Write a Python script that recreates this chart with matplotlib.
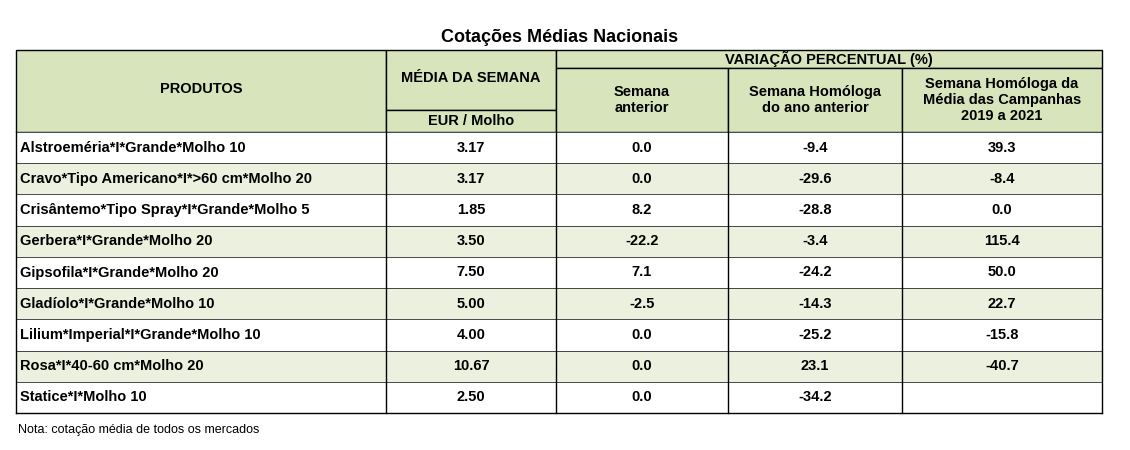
import matplotlib.pyplot as plt
from matplotlib.patches import Rectangle

produtos = ["Alstroeméria*I*Grande*Molho 10", "Cravo*Tipo Americano*I*>60 cm*Molho 20",
            "Crisântemo*Tipo Spray*I*Grande*Molho 5", "Gerbera*I*Grande*Molho 20",
            "Gipsofila*I*Grande*Molho 20", "Gladíolo*I*Grande*Molho 10",
            "Lilium*Imperial*I*Grande*Molho 10", "Rosa*I*40-60 cm*Molho 20", "Statice*I*Molho 10"]
media = ["3.17", "3.17", "1.85", "3.50", "7.50", "5.00", "4.00", "10.67", "2.50"]
sem_ant = ["0.0", "0.0", "8.2", "-22.2", "7.1", "-2.5", "0.0", "0.0", "0.0"]
sem_hom = ["-9.4", "-29.6", "-28.8", "-3.4", "-24.2", "-14.3", "-25.2", "23.1", "-34.2"]
sem_camp = ["39.3", "-8.4", "0.0", "115.4", "50.0", "22.7", "-15.8", "-40.7", ""]

plt.rcParams["font.family"] = "Liberation Sans"
fig = plt.figure(figsize=(11.3, 4.5), dpi=100)
ax = fig.add_axes([0, 0, 1, 1])
ax.set_xlim(0, 1130)
ax.set_ylim(450, 0)
ax.axis("off")

HDR = "#d8e4bc"
ALT = "#ebf1de"
cols = [16, 386, 556, 728, 902, 1102]
top, y1, y2, y3, bottom = 50, 68, 110, 132, 413
rh = (bottom - y3) / len(produtos)
fs = 10.5

def box(x0, y0, x1, y1_, fc):
    ax.add_patch(Rectangle((x0, y0), x1 - x0, y1_ - y0, fc=fc, ec="black", lw=1))

def txt(x, y, s, ha="center", size=fs):
    ax.text(x, y, s, ha=ha, va="center", fontsize=size, fontweight="bold")

ax.text(560, 38, "Cotações Médias Nacionais", ha="center", va="center", fontsize=13, fontweight="bold")

# header
box(cols[0], top, cols[1], y3, HDR)
txt((cols[0] + cols[1]) / 2, 89, "PRODUTOS")
box(cols[1], top, cols[2], y2, HDR)
txt((cols[1] + cols[2]) / 2, 78, "MÉDIA DA SEMANA")
box(cols[1], y2, cols[2], y3, HDR)
txt((cols[1] + cols[2]) / 2, 121, "EUR / Molho")
box(cols[2], top, cols[5], y1, HDR)
txt((cols[2] + cols[5]) / 2, 59, "VARIAÇÃO PERCENTUAL (%)")
subs = ["Semana\nanterior", "Semana Homóloga\ndo ano anterior",
        "Semana Homóloga da\nMédia das Campanhas\n2019 a 2021"]
for i, s in enumerate(subs):
    box(cols[2 + i], y1, cols[3 + i], y3, HDR)
    txt((cols[2 + i] + cols[3 + i]) / 2, (y1 + y3) / 2, s)

# body
for r, p in enumerate(produtos):
    ya = y3 + r * rh
    fc = ALT if r % 2 else "white"
    ax.add_patch(Rectangle((cols[0], ya), cols[5] - cols[0], rh, fc=fc, ec="none"))
    ax.plot([cols[0], cols[5]], [ya, ya], color="black", lw=0.5)
    yc = ya + rh / 2
    txt(cols[0] + 4, yc, p, ha="left")
    for c, v in enumerate([media[r], sem_ant[r], sem_hom[r], sem_camp[r]]):
        txt((cols[1 + c] + cols[2 + c]) / 2, yc, v)
for x in cols:
    ax.plot([x, x], [y3, bottom], color="black", lw=1)
ax.plot([cols[0], cols[5]], [bottom, bottom], color="black", lw=1)

ax.text(18, 430, "Nota: cotação média de todos os mercados", ha="left", va="center", fontsize=9)

fig.savefig("out.png", dpi=100)
